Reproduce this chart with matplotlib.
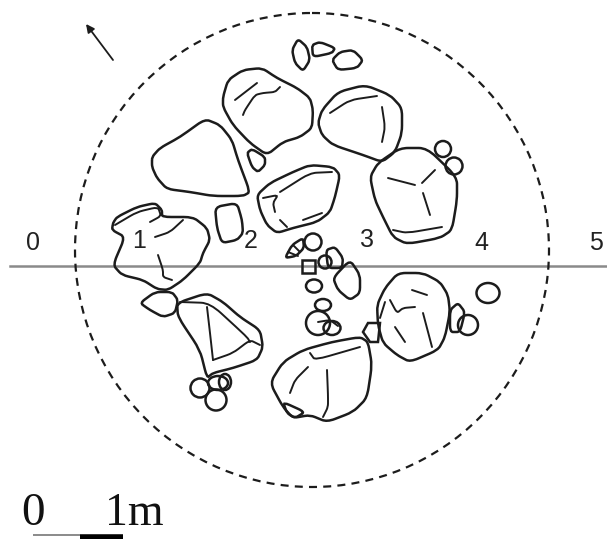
import matplotlib
matplotlib.use("Agg")
import matplotlib.pyplot as plt
from matplotlib.path import Path
from matplotlib.patches import PathPatch, Ellipse, Circle

# survey grid labels
grid_labels = ["0", "1", "2", "3", "4", "5"]
grid_label_x = [33, 139, 251, 367, 481, 596]
grid_label_y = [243, 241, 241, 240, 243, 243]

# stone outlines
stone_a = [(152,157),(160,148),(180,137),(205,119),(220,125),(232,140),(238,160),(250,192),(243,196),(213,196),(190,192),(167,189),(157,178),(152,167)]
stone_b = [(223,97),(228,80),(243,70),(262,68),(277,78),(297,88),(310,98),(313,110),(312,128),(300,137),(283,142),(267,155),(250,143),(233,125),(223,107)]
stone_b2 = [(247,153),(252,149),(265,157),(265,165),(258,172),(252,167)]
stone_c = [(257,195),(270,183),(293,172),(310,165),(333,167),(340,175),(335,197),(330,212),(317,222),(293,228),(277,233),(267,225),(260,210)]
stone_d = [(318,123),(322,110),(338,92),(365,85),(390,95),(402,108),(402,133),(395,152),(382,162),(363,155),(333,145),(322,135)]
stone_e = [(370,177),(378,163),(400,148),(427,148),(457,177),(457,200),(452,230),(440,238),(407,244),(393,237),(383,217),(375,200)]
top_1 = [(292,50),(298,39),(307,47),(310,60),(303,71),(295,63)]
top_2 = [(312,45),(320,42),(335,48),(332,53),(313,57)]
top_3 = [(332,60),(340,52),(353,50),(363,60),(357,68),(338,70)]
stone_2 = [(215,207),(237,203),(242,220),(243,233),(237,240),(222,243),(217,228)]
stone_f = [(113,223),(117,217),(137,207),(155,203),(162,210),(162,217),(193,217),(207,228),(210,240),(203,253),(200,263),(183,280),(168,290),(157,289),(143,280),(122,275),(113,265),(125,237),(112,230)]
stone_g = [(140,303),(155,292),(172,292),(178,300),(175,313),(163,317),(150,310)]
stone_h = [(177,303),(207,293),(223,302),(240,317),(260,330),(263,347),(257,360),(233,368),(213,373),(207,378),(200,350),(178,317)]
stone_i = [(270,383),(283,362),(303,350),(332,342),(360,337),(368,342),(372,365),(367,398),(353,412),(327,422),(310,415),(293,418),(283,407)]
stone_i2 = [(283,402),(305,412),(295,418),(287,413)]
stone_j = [(377,305),(385,288),(398,273),(423,273),(440,282),(448,295),(450,312),(445,337),(438,350),(410,362),(397,355),(383,343),(378,325)]
small_j = [(450,310),(458,303),(465,312),(460,332),(450,332)]
centre_1 = [(285,258),(292,245),(303,238),(304,248),(296,256)]
centre_2 = [(333,278),(350,260),(360,275),(360,293),(350,300),(338,290)]
centre_3 = [(326,250),(335,247),(343,258),(342,268),(328,268)]
closed_stones = [stone_a, stone_b, stone_b2, stone_c, stone_d, stone_e, top_1, top_2, top_3,
                 stone_2, stone_f, stone_g, stone_h, stone_i, stone_i2, stone_j, small_j,
                 centre_1, centre_2, centre_3]

# square blocks
square_1 = [(302,260),(315,260),(315,273),(302,273)]
square_2 = [(363,332),(368,323),(380,323),(378,342),(370,342)]
squares = [square_1, square_2]

# round stones: x, y, width, height
round_x = [443, 454, 200, 216, 218, 225, 313, 314, 325, 323, 318, 332, 468, 488]
round_y = [149, 166, 388, 400, 383, 382, 242, 286, 262, 305, 323, 328, 325, 293]
round_w = [16, 17, 19, 21, 20, 12, 17, 16, 13, 16, 24, 17, 20, 23]
round_h = [16, 17, 19, 21, 14, 16, 17, 13, 13, 12, 24, 14, 20, 20]

# surface cracks inside the stones
cracks = [
    [(235,100),(257,83)],
    [(243,115),(245,110),(255,95),(263,93),(275,92),(280,87)],
    [(280,192),(310,173),(332,172)],
    [(263,198),(278,195),(273,203),(275,212)],
    [(280,220),(287,227)],
    [(303,220),(322,213)],
    [(330,113),(350,100),(377,96)],
    [(382,107),(385,127),(382,142)],
    [(388,178),(415,185)],
    [(422,183),(435,170)],
    [(423,193),(430,215)],
    [(393,230),(407,233),(442,227)],
    [(155,237),(170,232),(183,220)],
    [(158,255),(163,270),(163,277),(172,280)],
    [(115,225),(137,212),(158,207),(161,216),(150,222)],
    [(207,307),(210,333),(213,360)],
    [(213,360),(233,353),(250,340),(260,345)],
    [(180,302),(210,303),(247,337),(250,342)],
    [(310,353),(315,360),(360,347)],
    [(308,367),(295,380),(290,393)],
    [(327,370),(328,395),(328,407),(323,417)],
    [(412,290),(427,295)],
    [(390,300),(397,313),(403,308),(415,307)],
    [(395,327),(405,342)],
    [(423,313),(432,347)],
    [(385,302),(380,318)],
    [(288,252),(298,256)],
    [(293,245),(300,252)],
    [(318,322),(330,320),(338,326)],
]

circle_centre = (312, 250)
circle_radius = 237
axis_y = 266
axis_x = (10, 607)
arrow_tail = (113, 60)
arrow_head = (86, 24)
scale_white = (33, 80)
scale_black = (80, 123)
scale_thin_y = 535
scale_y = 536.5

LW = 1.8
INK = "#1c1c1c"
CORNER = 0.3


def rounded_path(pts, closed):
    """Straight runs joined by small curved corners at each vertex."""
    near = lambda p, q: (p[0] + CORNER*(q[0]-p[0]), p[1] + CORNER*(q[1]-p[1]))
    n = len(pts)
    v, c = [], []
    idx = range(n) if closed else range(1, n-1)
    if not closed:
        v.append(pts[0])
        c.append(Path.MOVETO)
    for i in idx:
        p = pts[i]
        v += [near(p, pts[i-1]), p, near(p, pts[(i+1) % n])]
        c += [Path.MOVETO if (closed and i == 0) else Path.LINETO, Path.CURVE3, Path.CURVE3]
    if closed:
        v.append(v[0])
        c.append(Path.LINETO)
    else:
        v.append(pts[-1])
        c.append(Path.LINETO)
    return Path(v, c)


fig = plt.figure(figsize=(6.07, 5.39), dpi=100)
ax = fig.add_axes([0, 0, 1, 1])
ax.set_xlim(0, 607)
ax.set_ylim(539, 0)
ax.axis("off")

ax.plot(axis_x, [axis_y, axis_y], color="#8a8a8a", lw=1.8, zorder=1)
ax.add_patch(Circle(circle_centre, circle_radius, fill=False, ec=INK, lw=1.6,
                    ls=(0, (3.6, 2.8)), zorder=2))

for pts in closed_stones:
    ax.add_patch(PathPatch(rounded_path(pts, True), fill=False, ec=INK, lw=LW, zorder=3))
for pts in squares:
    ax.add_patch(plt.Polygon(pts, closed=True, fill=False, ec=INK, lw=LW, zorder=3))
for x, y, w, h in zip(round_x, round_y, round_w, round_h):
    ax.add_patch(Ellipse((x, y), w, h, fill=False, ec=INK, lw=LW, zorder=3))
for pts in cracks:
    ax.add_patch(PathPatch(rounded_path(pts, False), fill=False, ec=INK, lw=1.4,
                           capstyle="round", zorder=3))

for s, x, y in zip(grid_labels, grid_label_x, grid_label_y):
    ax.text(x, y, s, family="Liberation Sans", fontsize=18, color="#222222",
            ha="center", va="center", zorder=4)

ax.annotate("", xy=arrow_head, xytext=arrow_tail,
            arrowprops=dict(arrowstyle="-|>", color=INK, lw=1.3, mutation_scale=12,
                            shrinkA=0, shrinkB=0))

ax.text(33, 525, "0", family="Liberation Serif", fontsize=34, color="#111111",
        ha="center", va="baseline")
ax.text(134, 525, "1m", family="Liberation Serif", fontsize=33, color="#111111",
        ha="center", va="baseline")
ax.plot(scale_white, [scale_thin_y, scale_thin_y], color="#777777", lw=1.2, solid_capstyle="butt")
ax.plot(scale_black, [scale_y, scale_y], color="#000000", lw=4, solid_capstyle="butt")

fig.savefig("out.png", dpi=100)
